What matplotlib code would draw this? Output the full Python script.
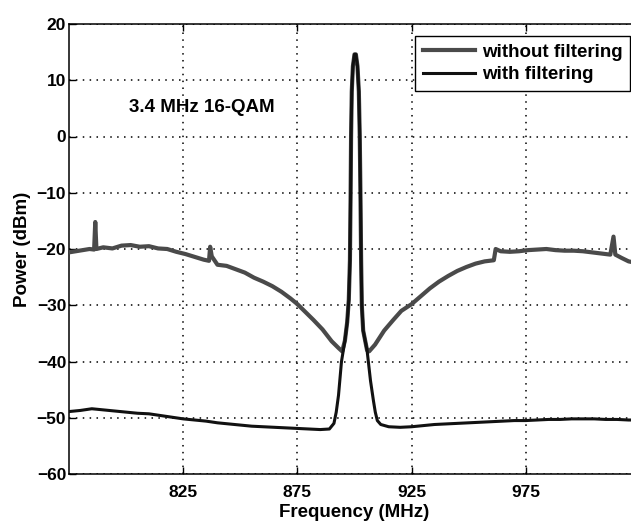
import matplotlib
matplotlib.use("Agg")
import matplotlib.pyplot as plt

plt.rcParams['font.family'] = ['Liberation Sans', 'DejaVu Sans']
plt.rcParams['font.weight'] = 'bold'

# ---- data ----
# Peak region shared by both traces
peak_freq = [895.8, 896.8, 897.5, 898.0, 898.3, 898.5, 898.8, 899.3, 900.0, 900.6,
             901.3, 901.9, 902.3, 902.6, 902.9, 903.2, 903.8, 905.5]
peak_pow = [-36.3, -33.0, -29.0, -22.0, -10.0, 0.0, 8.0, 12.5, 14.6, 14.6,
            12.5, 8.0, 0.0, -10.0, -22.0, -30.0, -34.5, -38.0]

# without filtering (left part, before peak)
nf_left_freq = [775, 778, 781, 784, 786, 786.5, 787, 790, 794, 798, 802, 806, 810, 814,
                818, 822, 826, 830, 834, 836.3, 836.8, 837.5, 840, 844, 848, 852, 856,
                860, 864, 868, 872, 875, 878, 882, 886, 890, 893, 894.6]
nf_left_pow = [-20.6, -20.4, -20.2, -20.0, -20.1, -15.2, -20.0, -19.7, -19.9, -19.4, -19.3,
               -19.6, -19.5, -19.9, -20.0, -20.5, -20.9, -21.4, -21.9, -22.1, -19.6, -21.3,
               -22.8, -23.0, -23.6, -24.2, -25.1, -25.8, -26.6, -27.6, -28.8, -29.8, -31.0,
               -32.6, -34.3, -36.4, -37.6, -38.2]
# without filtering (right part, after peak)
nf_right_freq = [906.4, 909, 913, 917, 920.5, 925, 929, 933, 937, 941, 945, 949, 953, 957,
                 961, 961.8, 964, 968, 972, 976, 980, 984, 988, 992, 996, 1000, 1004, 1008,
                 1012, 1013.4, 1014.2, 1017, 1020, 1025]
nf_right_pow = [-38.2, -37.0, -34.5, -32.6, -31.0, -29.8, -28.4, -27.0, -25.8, -24.8, -23.9,
                -23.2, -22.6, -22.2, -22.0, -20.0, -20.4, -20.5, -20.4, -20.2, -20.1, -20.0,
                -20.2, -20.3, -20.3, -20.4, -20.6, -20.8, -21.0, -17.8, -21.0, -21.6, -22.2,
                -22.6]

# with filtering
wf_left_freq = [775, 780, 785, 790, 795, 800, 805, 810, 815, 820, 825, 830, 835, 840, 845,
                850, 855, 860, 865, 870, 875, 880, 885, 889, 891, 892, 893, 894.3]
wf_left_pow = [-48.9, -48.7, -48.4, -48.6, -48.8, -49.0, -49.2, -49.3, -49.6, -49.9, -50.2,
               -50.4, -50.6, -50.9, -51.1, -51.3, -51.5, -51.6, -51.7, -51.8, -51.9, -52.0,
               -52.1, -52.0, -51.0, -49.0, -46.0, -40.0]
wf_right_freq = [907, 908.3, 909.1, 910, 911.5, 915, 920, 925, 930, 935, 940, 945, 950, 955,
                 960, 965, 970, 975, 980, 985, 990, 995, 1000, 1005, 1010, 1015, 1020, 1025]
wf_right_pow = [-43.4, -47.0, -49.0, -50.5, -51.2, -51.6, -51.7, -51.6, -51.4, -51.2, -51.1,
                -51.0, -50.9, -50.8, -50.7, -50.6, -50.5, -50.5, -50.4, -50.3, -50.3, -50.2,
                -50.2, -50.2, -50.3, -50.3, -50.4, -50.4]

x_ticks = [825, 875, 925, 975]
y_ticks = [20, 10, 0, -10, -20, -30, -40, -50, -60]
labels = ['without filtering', 'with filtering']

nf_freq = nf_left_freq + peak_freq + nf_right_freq
nf_pow = nf_left_pow + peak_pow + nf_right_pow
wf_freq = wf_left_freq + peak_freq + wf_right_freq
wf_pow = wf_left_pow + peak_pow + wf_right_pow

# ---- figure ----
fig = plt.figure(figsize=(6.31, 5.27), dpi=100)
W, H = 631, 527
left, right, top, bottom = 69, 640, 24, 474
ax = fig.add_axes([left / W, 1 - bottom / H, (right - left) / W, (bottom - top) / H])

ax.plot(nf_freq, nf_pow, color='#4a4a4a', lw=3.0, label=labels[0], zorder=3)
ax.plot(wf_freq, wf_pow, color='#111111', lw=2.2, label=labels[1], zorder=4)

ax.set_xlim(775, 1025)
ax.set_ylim(-60, 20)
ax.set_xticks(x_ticks)
ax.set_yticks(y_ticks)
ax.grid(True, color='black', lw=1.1, linestyle=(0, (1, 3.5)))
ax.tick_params(direction='in', length=5, width=1, top=True, right=True,
               labelsize=12.5, pad=2)
ax.tick_params(axis='x', pad=8)
for lab in ax.get_xticklabels() + ax.get_yticklabels():
    lab.set_fontweight('bold')
for sp in ax.spines.values():
    sp.set_linewidth(1.1)
    sp.set_color('black')

ax.set_xlabel('Frequency (MHz)', fontsize=13.5, fontweight='bold', labelpad=3)
ax.set_ylabel('Power (dBm)', fontsize=13.5, fontweight='bold', labelpad=4)

ax.text((129 - left) / (right - left), (bottom - 108) / (bottom - top), '3.4 MHz 16-QAM',
        transform=ax.transAxes, ha='left', va='center', fontsize=13.5, fontweight='bold')

leg = ax.legend(loc='upper left', bbox_to_anchor=((415 - left) / (right - left), (bottom - 36) / (bottom - top)),
                fontsize=13.5, frameon=True, fancybox=False, framealpha=1, edgecolor='black',
                handlelength=2.8, handletextpad=0.35, labelspacing=0.3, borderpad=0.4,
                borderaxespad=0)
leg.get_frame().set_linewidth(1.0)
for t in leg.get_texts():
    t.set_fontweight('bold')

fig.savefig('out.png', dpi=100)
